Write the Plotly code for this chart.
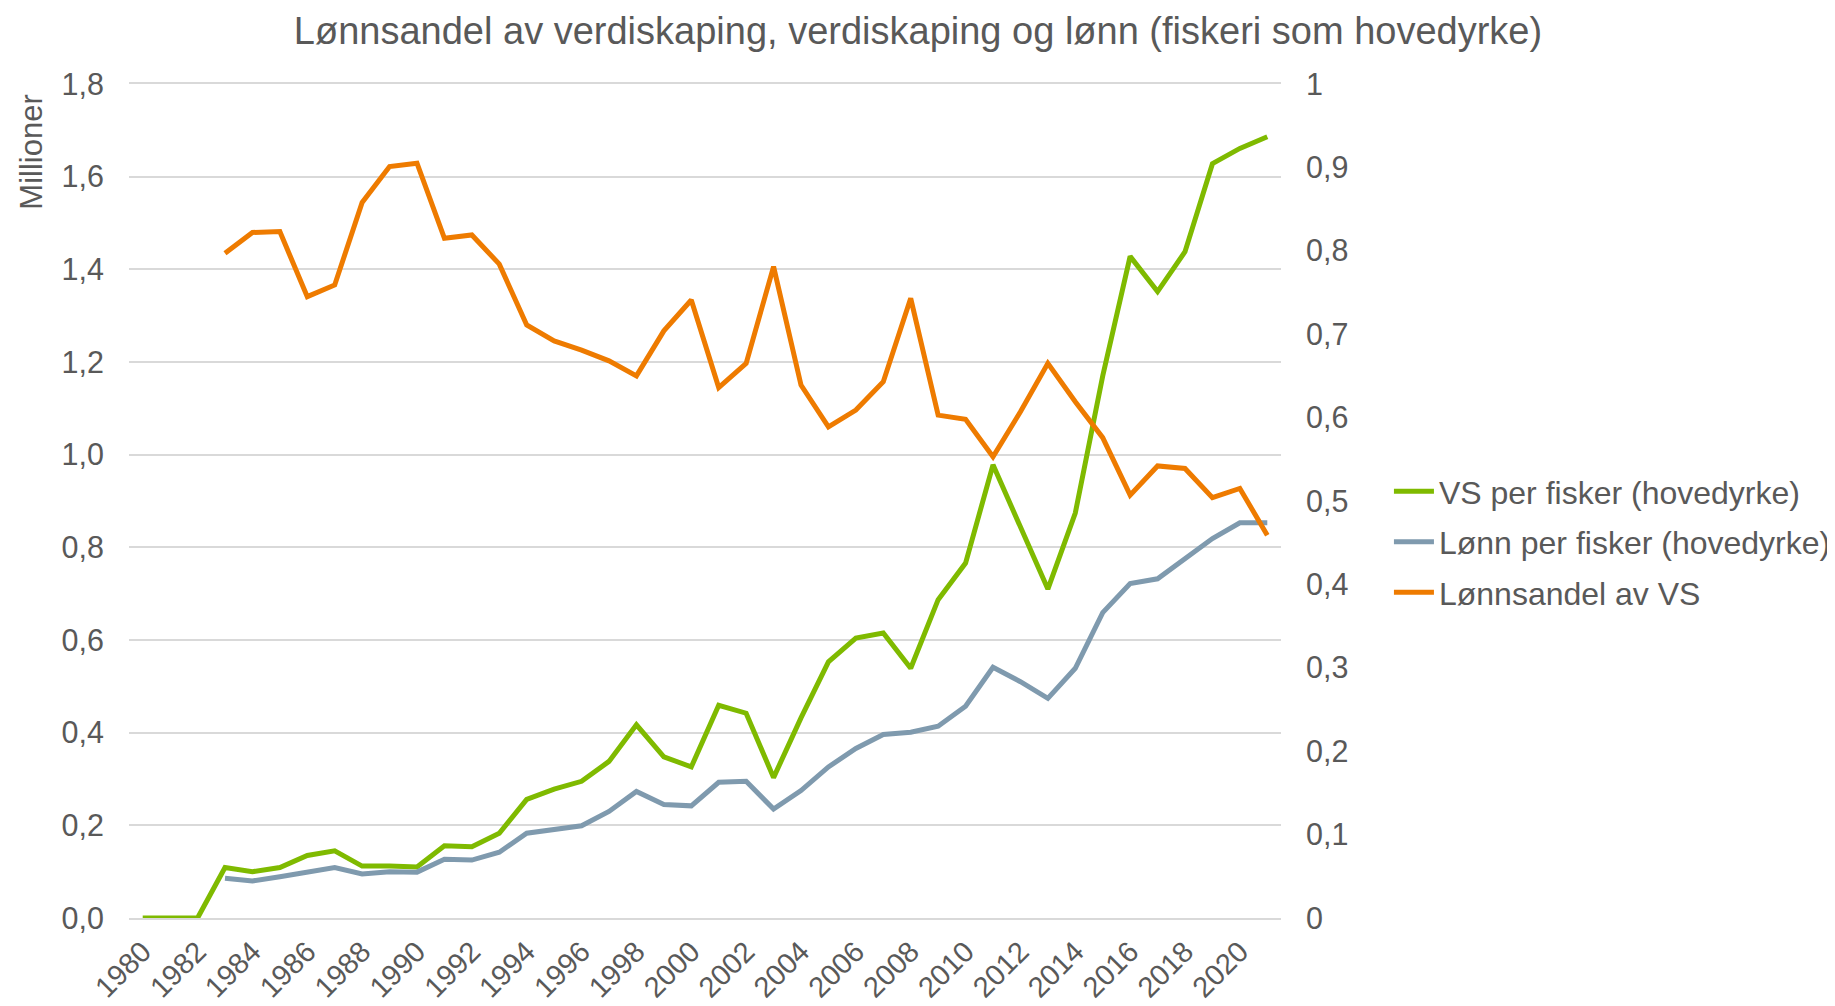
import plotly.graph_objects as go

years = [1980, 1981, 1982, 1983, 1984, 1985, 1986, 1987, 1988, 1989, 1990,
         1991, 1992, 1993, 1994, 1995, 1996, 1997, 1998, 1999, 2000,
         2001, 2002, 2003, 2004, 2005, 2006, 2007, 2008, 2009, 2010,
         2011, 2012, 2013, 2014, 2015, 2016, 2017, 2018, 2019, 2020, 2021]

vs_per_fisker = [0, 0, 0, 0.109, 0.100, 0.109, 0.135, 0.145, 0.112, 0.112, 0.110,
                 0.156, 0.154, 0.183, 0.256, 0.278, 0.295, 0.338, 0.417, 0.348, 0.326,
                 0.459, 0.442, 0.303, 0.432, 0.553, 0.604, 0.615, 0.539, 0.687, 0.766,
                 0.978, 0.841, 0.710, 0.874, 1.170, 1.428, 1.352, 1.438, 1.628, 1.661, 1.686]

lonn_per_fisker = [None, None, None, 0.086, 0.080, 0.089, 0.098, 0.109, 0.095, 0.100, 0.099,
                   0.127, 0.125, 0.142, 0.183, 0.192, 0.199, 0.230, 0.273, 0.245, 0.242,
                   0.293, 0.295, 0.235, 0.275, 0.326, 0.366, 0.396, 0.401, 0.414, 0.457,
                   0.541, 0.510, 0.474, 0.539, 0.659, 0.722, 0.732, 0.776, 0.819, 0.853, 0.853]

lonnsandel = [None, None, None, 0.797, 0.822, 0.823, 0.745, 0.759, 0.858, 0.901, 0.905,
              0.815, 0.819, 0.784, 0.711, 0.692, 0.681, 0.668, 0.650, 0.704, 0.741,
              0.636, 0.665, 0.781, 0.639, 0.589, 0.609, 0.643, 0.743, 0.603, 0.598,
              0.553, 0.607, 0.665, 0.619, 0.576, 0.507, 0.542, 0.539, 0.504, 0.515, 0.459]

x_tick_vals = [1980, 1982, 1984, 1986, 1988, 1990, 1992, 1994, 1996, 1998, 2000,
               2002, 2004, 2006, 2008, 2010, 2012, 2014, 2016, 2018, 2020]
left_tick_vals = [0, 0.2, 0.4, 0.6, 0.8, 1.0, 1.2, 1.4, 1.6, 1.8]
left_tick_text = ["0,0", "0,2", "0,4", "0,6", "0,8", "1,0", "1,2", "1,4", "1,6", "1,8"]
right_tick_vals = [0, 0.1, 0.2, 0.3, 0.4, 0.5, 0.6, 0.7, 0.8, 0.9, 1.0]
right_tick_text = ["0", "0,1", "0,2", "0,3", "0,4", "0,5", "0,6", "0,7", "0,8", "0,9", "1"]

GREEN = "#7FBA00"
BLUE = "#7F9AAE"
ORANGE = "#EE7B00"
TXT = "#595959"
GRID = "#D9D9D9"
FONT = "Liberation Sans, Arial, sans-serif"

fig = go.Figure()
fig.add_trace(go.Scatter(x=years, y=vs_per_fisker, mode="lines", name="VS per fisker (hovedyrke)",
                         line=dict(color=GREEN, width=5), legendgroup="a"))
fig.add_trace(go.Scatter(x=years, y=lonn_per_fisker, mode="lines", name="Lønn per fisker (hovedyrke)",
                         line=dict(color=BLUE, width=5), legendgroup="b"))
fig.add_trace(go.Scatter(x=years, y=lonnsandel, mode="lines", name="Lønnsandel av VS",
                         line=dict(color=ORANGE, width=5), yaxis="y2", legendgroup="c"))

W, H = 1827, 998
L, T = 121, 76
PW, PH = 1152, 834

fig.update_layout(
    width=W, height=H,
    paper_bgcolor="white", plot_bgcolor="white",
    margin=dict(l=L, r=W - L - PW, t=T, b=H - T - PH, autoexpand=False),
    font=dict(family=FONT, color=TXT, size=30),
    title=dict(text="Lønnsandel av verdiskaping, verdiskaping og lønn (fiskeri som hovedyrke)",
               x=910 / W, xref="container", xanchor="center",
               y=1 - 23 / H, yref="container", yanchor="middle",
               font=dict(size=38, color=TXT, family=FONT)),
    xaxis=dict(range=[1979.5, 2021.5], tickvals=x_tick_vals, tickangle=-45,
               showgrid=False, zeroline=False,
               showline=True, mirror=True, linecolor=GRID, linewidth=2, layer="below traces",
               ticks="", ticklabelstandoff=3,
               tickfont=dict(size=29, color=TXT)),
    yaxis=dict(range=[0, 1.8], tickvals=left_tick_vals, ticktext=left_tick_text,
               showgrid=True, gridcolor=GRID, gridwidth=2, zeroline=False, showline=False,
               ticks="", ticklabelstandoff=24, tickfont=dict(size=30.5, color=TXT)),
    yaxis2=dict(range=[0, 1], tickvals=right_tick_vals, ticktext=right_tick_text,
                overlaying="y", side="right", showgrid=False, zeroline=False, showline=False,
                ticks="", ticklabelstandoff=24, tickfont=dict(size=30.5, color=TXT)),
    legend=dict(x=1.0937, y=0.451, xanchor="left", yanchor="middle",
                font=dict(size=32, color=TXT), traceorder="grouped", tracegroupgap=6,
                bgcolor="rgba(0,0,0,0)", itemwidth=40),
    showlegend=True,
    annotations=[dict(text="Millioner", xref="paper", yref="paper", x=-0.0845, y=0.9185,
                      xanchor="center", yanchor="middle", textangle=-90, showarrow=False,
                      font=dict(size=31, color=TXT, family=FONT))],
)

fig.write_html("out.html")
